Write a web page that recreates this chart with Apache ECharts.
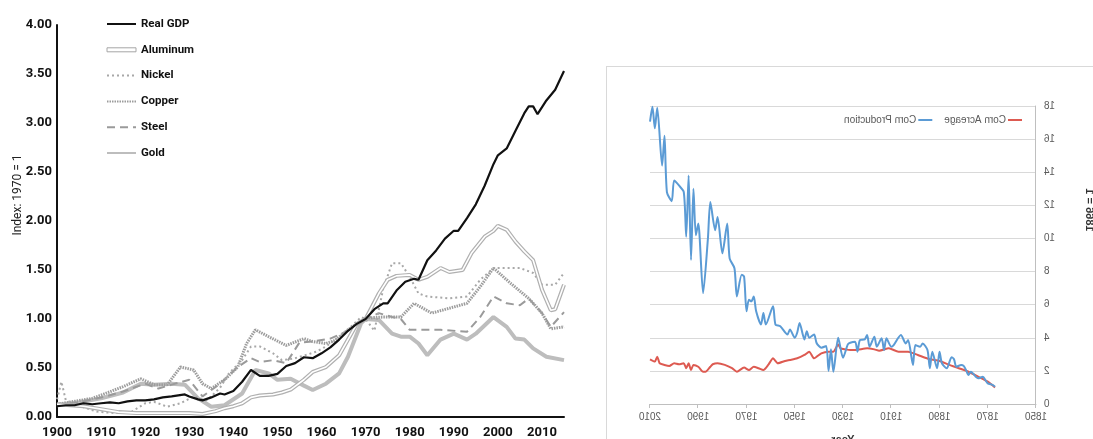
<!DOCTYPE html>
<html>
<head>
<meta charset="utf-8">
<script src="https://cdn.jsdelivr.net/npm/echarts@6/dist/echarts.min.js"></script>
<style>
html,body{margin:0;padding:0;width:1093px;height:439px;overflow:hidden;background:#fff;}
#left{position:absolute;left:0;top:0;width:600px;height:439px;}
#wrap{position:absolute;left:606px;top:66px;width:500px;height:400px;box-sizing:border-box;border:1px solid #d9d9d9;background:#fff;transform:scaleX(-1);}
#right{width:498px;height:398px;}
</style>
</head>
<body>
<div id="left"></div>
<div id="wrap"><div id="right"></div></div>
<script>
// ---------- Left chart data (Index: 1970 = 1) ----------
const gdpYears = [1900,1902,1904,1906,1908,1910,1912,1914,1916,1918,1920,1922,1924,1926,1929,1930,1932,1933,1935,1937,1938,1940,1942,1944,1946,1948,1950,1952,1954,1956,1958,1960,1962,1964,1966,1968,1970,1972,1974,1975,1977,1979,1981,1982,1984,1986,1988,1990,1991,1993,1995,1997,1999,2000,2002,2004,2006,2007,2008,2009,2011,2013,2015];
const gdpValues = [0.11,0.12,0.12,0.14,0.13,0.14,0.15,0.14,0.16,0.17,0.17,0.18,0.20,0.21,0.23,0.21,0.18,0.17,0.20,0.24,0.23,0.265,0.36,0.48,0.42,0.42,0.44,0.52,0.55,0.61,0.60,0.65,0.71,0.79,0.88,0.95,1.00,1.10,1.16,1.16,1.29,1.38,1.41,1.40,1.60,1.70,1.82,1.90,1.90,2.03,2.17,2.36,2.58,2.67,2.74,2.92,3.10,3.17,3.17,3.09,3.23,3.34,3.53];

const aluminumYears = [1900,1903,1906,1910,1914,1918,1922,1926,1930,1933,1936,1938,1940,1942,1944,1946,1949,1951,1953,1956,1958,1961,1964,1966,1968,1970,1973,1975,1977,1980,1982,1984,1987,1989,1992,1994,1997,1999,2000,2002,2004,2006,2008,2010,2012,2013,2015];
const aluminumValues = [0.13,0.12,0.11,0.08,0.05,0.04,0.04,0.04,0.04,0.03,0.06,0.09,0.11,0.14,0.20,0.22,0.23,0.25,0.28,0.38,0.46,0.51,0.63,0.79,0.95,1.00,1.26,1.40,1.44,1.45,1.40,1.43,1.52,1.48,1.50,1.67,1.84,1.90,1.95,1.91,1.79,1.69,1.60,1.30,1.09,1.10,1.35];

const nickelYears = [1900,1901,1902,1904,1906,1909,1913,1917,1920,1922,1925,1928,1931,1934,1935,1937,1939,1942,1944,1946,1949,1951,1954,1957,1959,1961,1965,1969,1970,1972,1974,1976,1978,1980,1982,1984,1989,1993,1996,1999,2002,2005,2008,2010,2013,2015];
const nickelValues = [0.18,0.36,0.17,0.13,0.10,0.055,0.04,0.055,0.14,0.155,0.105,0.14,0.21,0.17,0.21,0.30,0.445,0.58,0.72,0.72,0.65,0.58,0.60,0.64,0.67,0.72,0.85,1.02,1.00,0.88,1.31,1.57,1.57,1.43,1.26,1.23,1.21,1.23,1.40,1.52,1.52,1.52,1.47,1.35,1.35,1.47];

const copperYears = [1900,1904,1908,1911,1915,1919,1922,1925,1928,1931,1933,1935,1938,1941,1943,1945,1948,1952,1956,1958,1961,1963,1966,1970,1974,1978,1981,1985,1989,1993,1996,1999,2003,2007,2010,2012,2015];
const copperValues = [0.13,0.16,0.19,0.24,0.31,0.39,0.33,0.33,0.51,0.48,0.34,0.29,0.38,0.51,0.75,0.89,0.82,0.73,0.80,0.77,0.75,0.78,0.89,1.01,1.02,1.02,1.16,1.06,1.11,1.16,1.33,1.52,1.36,1.21,1.06,0.90,0.92];

const steelYears = [1900,1905,1911,1915,1920,1923,1926,1930,1933,1937,1941,1944,1946,1949,1952,1955,1958,1962,1966,1970,1973,1976,1978,1980,1984,1987,1993,1996,1999,2002,2005,2007,2010,2012,2015];
const steelValues = [0.12,0.15,0.21,0.26,0.34,0.29,0.33,0.38,0.21,0.34,0.51,0.60,0.56,0.58,0.55,0.76,0.77,0.80,0.88,1.00,1.06,1.02,1.00,0.89,0.89,0.89,0.87,1.02,1.23,1.16,1.14,1.21,1.06,0.92,1.07];

const goldYears = [1900,1905,1910,1915,1919,1922,1926,1929,1932,1935,1938,1942,1945,1948,1950,1953,1956,1958,1961,1964,1966,1969,1970,1973,1976,1978,1980,1982,1984,1987,1990,1993,1995,1999,2002,2004,2006,2008,2011,2015];
const goldValues = [0.12,0.15,0.19,0.25,0.34,0.33,0.34,0.33,0.19,0.105,0.12,0.24,0.48,0.445,0.38,0.39,0.32,0.275,0.34,0.445,0.615,0.96,1.00,0.99,0.85,0.82,0.82,0.75,0.63,0.79,0.85,0.79,0.85,1.02,0.92,0.80,0.79,0.70,0.615,0.58];

const leftYTicks = ['0.00','0.50','1.00','1.50','2.00','2.50','3.00','3.50','4.00'];

// ---------- Right chart data (mirrored picture) ----------
const prodYears = [1867,1868,1870,1871,1872,1874,1875,1877,1878,1879,1880,1881,1883,1884,1885,1887,1889,1890,1891,1893,1894,1895,1897,1898,1900,1901,1903,1904,1906,1909,1910,1912,1913,1914,1916,1917,1919,1920,1921,1923,1924,1925,1927,1928,1930,1932,1934,1935,1936,1937,1939,1940,1941,1942,1944,1945,1946,1948,1949,1950,1952,1953,1956,1958,1959,1962,1963,1964,1966,1967,1968,1969,1970,1971,1972,1974,1975,1977,1978,1980,1982,1983,1985,1986,1988,1990,1991,1992,1993,1994,1995,1996,1998,2000,2001,2003,2004,2005,2007,2008,2009,2010];
const prodValues = [1.04,1.15,1.25,1.45,1.65,1.55,1.65,1.95,1.75,2.05,2.3,2.36,2.25,2.7,2.82,2.16,2.46,3.16,2.16,3.16,2.16,3.26,3.66,3.46,3.56,2.36,3.86,3.66,4.17,3.56,3.46,3.97,3.26,3.97,3.46,4.06,3.46,4.17,3.9,3.86,3.16,3.76,3.7,3.6,2.8,4.0,1.95,3.3,2.0,3.5,3.4,3.5,3.7,4.2,4.0,4.4,3.9,4.9,4.3,4.0,4.5,4.2,4.7,4.8,5.9,4.8,5.5,4.8,5.6,6.5,6.2,6.3,5.6,7.7,7.8,6.5,8.2,8.8,10.9,9.1,11.3,10.5,12.2,10.0,6.7,10.9,10.2,13.0,8.7,13.8,10.1,12.8,13.2,13.5,12.25,12.8,16.2,14.4,17.9,16.65,17.95,17.05];

const acreYears = [1867,1870,1874,1878,1882,1886,1890,1894,1899,1903,1907,1911,1915,1917,1920,1925,1927,1929,1931,1932,1934,1936,1939,1942,1944,1946,1949,1952,1954,1957,1959,1961,1963,1965,1967,1969,1971,1974,1976,1979,1982,1984,1985,1987,1988,1990,1992,1993,1994,1995,1996,1998,2000,2002,2004,2006,2007,2008,2010];
const acreValues = [1.0,1.35,1.65,1.95,2.16,2.36,2.6,2.7,2.96,3.16,3.16,3.36,3.22,3.3,3.36,3.26,3.26,3.3,3.36,3.6,3.16,3.16,3.06,2.76,3.16,2.96,2.76,2.66,2.6,2.46,2.76,2.36,2.05,2.16,2.25,2.05,2.2,1.95,2.16,2.36,2.46,2.4,2.25,1.95,1.95,2.25,2.36,2.05,2.46,2.16,2.46,2.4,2.46,2.3,2.36,2.46,2.86,2.56,2.7];

const pairs = (xs, ys) => xs.map((x, i) => [x, ys[i]]);

const narrow = 'Roboto, "DejaVu Sans Condensed", sans-serif';

// ---------- Left chart ----------
const left = echarts.init(document.getElementById('left'));
const lineBase = { type: 'line', showSymbol: false, symbol: 'none', animation: false };
left.setOption({
  animation: false,
  grid: { left: 57, right: 36, top: 25, bottom: 22, containLabel: false },
  legend: {
    orient: 'vertical', left: 106, top: 18, padding: 0, itemWidth: 29, itemHeight: 12, itemGap: 13.8,
    itemStyle: { opacity: 0 },
    textStyle: { fontFamily: narrow, fontWeight: 'bold', fontSize: 11.5, color: '#111', lineHeight: 12 },
    data: [
      'Real GDP',
      { name: 'Aluminum', icon: 'path://M0,0H29V4H0Z', itemStyle: { color: '#fff', borderColor: '#a6a6a6', borderWidth: 1, opacity: 1 } },
      'Nickel', 'Copper', 'Steel', 'Gold'
    ]
  },
  xAxis: {
    type: 'value', min: 1900, max: 2015, interval: 10,
    axisLine: { show: true, lineStyle: { color: '#111', width: 2 } },
    axisTick: { show: false }, splitLine: { show: false },
    axisLabel: { margin: 9, fontFamily: narrow, fontWeight: 'bold', fontSize: 13, color: '#111',
      formatter: v => (v % 10 === 0 ? String(v) : '') }
  },
  yAxis: {
    type: 'value', min: 0, max: 4, interval: 0.5,
    axisLine: { show: true, lineStyle: { color: '#111', width: 2 } },
    axisTick: { show: false }, splitLine: { show: false },
    axisLabel: { margin: 5, fontFamily: narrow, fontWeight: 'bold', fontSize: 13, color: '#111',
      formatter: v => leftYTicks[Math.round(v * 2)] }
  },
  graphic: [{
    type: 'text', x: 18, y: 195, rotation: Math.PI / 2,
    style: { text: 'Index: 1970 = 1', fontFamily: narrow, fontSize: 12, fill: '#222', align: 'center', verticalAlign: 'middle' }
  }],
  series: [
    Object.assign({}, lineBase, { name: 'Gold', z: 2, data: pairs(goldYears, goldValues), lineStyle: { color: '#bdbdbd', width: 4 }, itemStyle: { color: '#bdbdbd' } }),
    Object.assign({}, lineBase, { name: 'Steel', z: 3, data: pairs(steelYears, steelValues), lineStyle: { color: '#9a9a9a', width: 2, type: [8, 5] }, itemStyle: { color: '#9a9a9a' } }),
    Object.assign({}, lineBase, { name: 'Copper', z: 3, data: pairs(copperYears, copperValues), lineStyle: { color: '#9c9c9c', width: 3, type: [1.5, 1] }, itemStyle: { color: '#9c9c9c' } }),
    Object.assign({}, lineBase, { name: 'Nickel', z: 3, data: pairs(nickelYears, nickelValues), lineStyle: { color: '#a8a8a8', width: 2, type: [2, 3] }, itemStyle: { color: '#a8a8a8' } }),
    Object.assign({}, lineBase, { name: 'Aluminum', z: 4, data: pairs(aluminumYears, aluminumValues), lineStyle: { color: '#b0b0b0', width: 4 }, itemStyle: { color: '#b0b0b0' } }),
    Object.assign({}, lineBase, { name: 'Aluminum', z: 5, data: pairs(aluminumYears, aluminumValues), lineStyle: { color: '#ffffff', width: 1.6 }, itemStyle: { color: '#ffffff' } }),
    Object.assign({}, lineBase, { name: 'Real GDP', z: 6, data: pairs(gdpYears, gdpValues), lineStyle: { color: '#111', width: 2.2 }, itemStyle: { color: '#111' } })
  ]
});

// ---------- Right chart (drawn normally, mirrored by CSS) ----------
const right = echarts.init(document.getElementById('right'));
const arial = '"Liberation Sans", Arial, sans-serif';
right.setOption({
  animation: false,
  grid: { left: 69, right: 43, top: 39, bottom: 61, containLabel: false },
  legend: {
    left: 83, top: 48, padding: 0, itemWidth: 14, itemHeight: 2, itemGap: 12, icon: 'rect',
    textStyle: { fontFamily: arial, fontSize: 10, color: '#595959', padding: [0, 0, 0, -3] },
    data: ['Corn Acreage', 'Corn Production']
  },
  xAxis: {
    type: 'value', min: 1850, max: 2010, interval: 20,
    name: 'Year', nameLocation: 'middle', nameGap: 30,
    nameTextStyle: { fontFamily: arial, fontWeight: 'bold', fontSize: 11, color: '#333' },
    axisLine: { show: true, lineStyle: { color: '#bfbfbf', width: 1 } },
    axisTick: { show: true, length: 4, lineStyle: { color: '#bfbfbf' } },
    splitLine: { show: false },
    axisLabel: { margin: 8, fontFamily: arial, fontSize: 10, color: '#595959', formatter: v => String(v) }
  },
  yAxis: {
    type: 'value', min: 0, max: 18, interval: 2,
    axisLine: { show: true, lineStyle: { color: '#bfbfbf', width: 1 } },
    axisTick: { show: false },
    splitLine: { show: true, lineStyle: { color: '#d9d9d9', width: 1 } },
    axisLabel: { margin: 8, fontFamily: arial, fontSize: 10, color: '#595959' }
  },
  graphic: [{
    type: 'text', x: 16, y: 143, rotation: Math.PI / 2,
    style: { text: '1866 = 1', fontFamily: arial, fontWeight: 'bold', fontSize: 11, fill: '#333', align: 'center', verticalAlign: 'middle' }
  }],
  series: [
    { type: 'line', name: 'Corn Acreage', data: pairs(acreYears, acreValues), showSymbol: false, symbol: 'none', smooth: 0.2,
      lineStyle: { color: '#dd5a51', width: 2 }, itemStyle: { color: '#dd5a51' }, z: 2 },
    { type: 'line', name: 'Corn Production', data: pairs(prodYears, prodValues), showSymbol: false, symbol: 'none', smooth: 0.25,
      lineStyle: { color: '#5b9bd5', width: 2 }, itemStyle: { color: '#5b9bd5' }, z: 3 }
  ]
});
</script>
</body>
</html>
